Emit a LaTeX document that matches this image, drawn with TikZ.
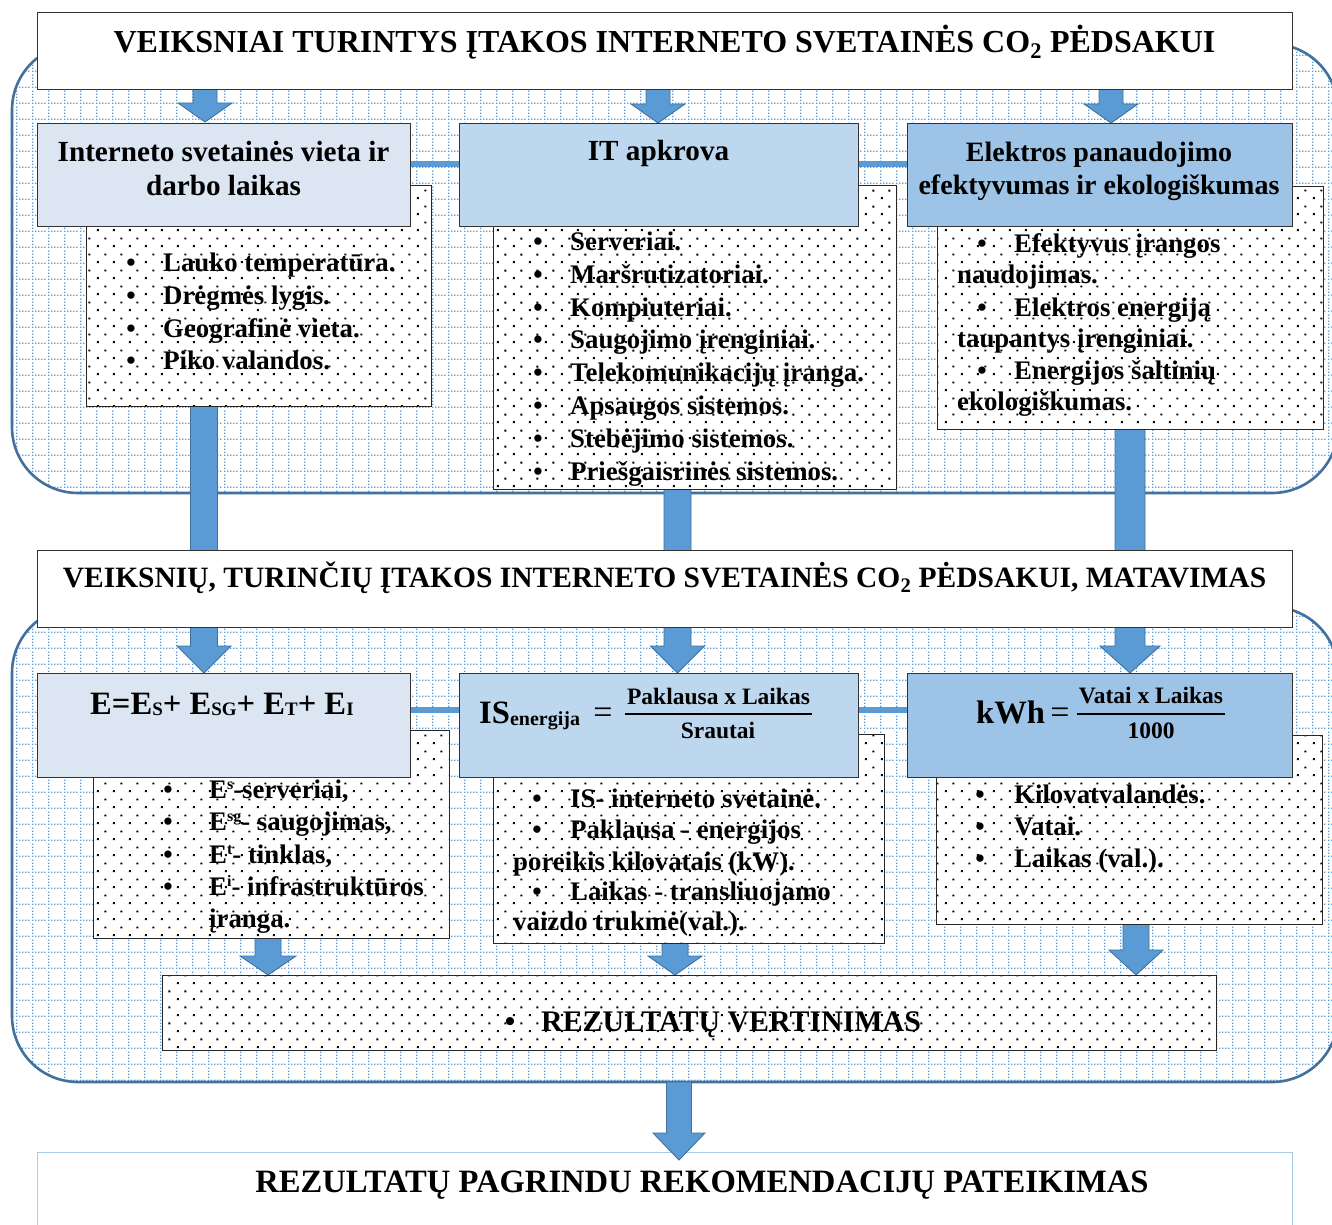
\documentclass[tikz,border=0pt]{standalone}
\usepackage{fontspec}
\setmainfont{Liberation Serif}
\usetikzlibrary{patterns}
\definecolor{hdrA}{HTML}{DCE6F2}
\definecolor{hdrB}{HTML}{BDD7EE}
\definecolor{hdrC}{HTML}{9DC3E6}
\definecolor{arrfill}{HTML}{5B9BD5}
\definecolor{arredge}{HTML}{41719C}
\definecolor{gridblue}{HTML}{5B9BD5}
\definecolor{finaledge}{HTML}{A9CBEA}
\pgfdeclarepatternformonly{bluegrid}{\pgfpointorigin}{\pgfpoint{16pt}{16pt}}{\pgfpoint{16pt}{16pt}}{%
  \pgfpathrectangle{\pgfpoint{0pt}{0pt}}{\pgfpoint{1.5pt}{1.5pt}}%
  \pgfpathrectangle{\pgfpoint{3.2pt}{0pt}}{\pgfpoint{1.5pt}{1.5pt}}%
  \pgfpathrectangle{\pgfpoint{6.4pt}{0pt}}{\pgfpoint{1.5pt}{1.5pt}}%
  \pgfpathrectangle{\pgfpoint{9.6pt}{0pt}}{\pgfpoint{1.5pt}{1.5pt}}%
  \pgfpathrectangle{\pgfpoint{12.8pt}{0pt}}{\pgfpoint{1.5pt}{1.5pt}}%
  \pgfpathrectangle{\pgfpoint{0pt}{3.2pt}}{\pgfpoint{1.5pt}{1.5pt}}%
  \pgfpathrectangle{\pgfpoint{0pt}{6.4pt}}{\pgfpoint{1.5pt}{1.5pt}}%
  \pgfpathrectangle{\pgfpoint{0pt}{9.6pt}}{\pgfpoint{1.5pt}{1.5pt}}%
  \pgfpathrectangle{\pgfpoint{0pt}{12.8pt}}{\pgfpoint{1.5pt}{1.5pt}}%
  \pgfusepath{fill}}
\pgfdeclarepatternformonly{blackdots}{\pgfpointorigin}{\pgfpoint{16pt}{16pt}}{\pgfpoint{16pt}{16pt}}{%
  \pgfpathrectangle{\pgfpoint{1pt}{1pt}}{\pgfpoint{2.1pt}{2.1pt}}%
  \pgfpathrectangle{\pgfpoint{9pt}{9pt}}{\pgfpoint{2.1pt}{2.1pt}}%
  \pgfusepath{fill}}
\newcommand\Ftitle{\fontsize{32}{38}\selectfont\bfseries}
\newcommand\Ffinal{\fontsize{32.6}{38}\selectfont\bfseries}
\newcommand\Ftitleb{\fontsize{29.5}{35}\selectfont\bfseries}
\newcommand\Fhead{\fontsize{28}{34}\selectfont\bfseries}
\newcommand\FheadA{\fontsize{29.2}{34}\selectfont\bfseries}
\newcommand\Flist{\fontsize{26.8}{32}\selectfont\bfseries}
\newcommand\Fres{\fontsize{29.9}{35}\selectfont\bfseries}
\newcommand\Fform{\fontsize{32.6}{38}\selectfont\bfseries}
\newcommand\Ffrac{\fontsize{23.5}{28}\selectfont\bfseries}
\newcommand\Sbs[1]{{\fontsize{19}{19}\selectfont\raisebox{-1pt}{#1}}}
\newcommand\Sps[1]{{\fontsize{16}{16}\selectfont\raisebox{9pt}{#1}}}
% block arrow: x, ytop, ytip, shaft half, head half, head length
\newcommand\dnarrow[6]{\draw[blockarrow] (#1-#4,#2) -- (#1+#4,#2) -- (#1+#4,#3-#6) -- (#1+#5,#3-#6) -- (#1,#3) -- (#1-#5,#3-#6) -- (#1-#4,#3-#6) -- cycle;}
% bullet item: name, bullet x, text x, baseline y, text
\newcommand\bitem[5]{\node[bul] (#1b) at (#2,#4) {\textbullet}; \node[ltxt] (#1) at (#3,#4) {#5};}
\newcommand\litem[4]{\node[ltxt] (#1) at (#2,#3) {#4};}
\begin{document}
\begin{tikzpicture}[x=1pt,y=-1pt,
  region/.style={draw=arredge, line width=2.6pt, preaction={fill=white}, pattern=bluegrid, pattern color=gridblue, rounded corners=66pt},
  blockarrow/.style={fill=arrfill, draw=arredge, line width=0.9pt},
  conn/.style={draw=arrfill, line width=6pt},
  titlebox/.style={draw=black!80, line width=1.3pt, fill=white, inner sep=0, anchor=north west},
  hbox/.style={draw=black!80, line width=1.3pt, inner sep=0, anchor=north west},
  lbox/.style={draw=black!85, line width=1.1pt, preaction={fill=white}, pattern=blackdots, pattern color=black, inner sep=0, anchor=north west},
  txt/.style={inner sep=0, anchor=base},
  bul/.style={inner sep=0, anchor=base, font=\Flist},
  ltxt/.style={inner sep=0, anchor=base west, font=\Flist}]
\useasboundingbox (0,0) rectangle (1332,1224);
\fill[white] (0,0) rectangle (1332,1224);

% regions
\draw[region] (12,44) rectangle (1338,493);
\draw[region] (12,607) rectangle (1338,1082);

% final box and arrow
\node[draw=finaledge, line width=1.3pt, fill=white, inner sep=0, anchor=north west, minimum width=1255pt, minimum height=100pt] (fin) at (37,1152) {};
\node[txt, font=\Ffinal] (fintxt) at (702,1192) {REZULTATŲ PAGRINDU REKOMENDACIJŲ PATEIKIMAS};
\dnarrow{679}{1082}{1160}{12.5}{26}{27}

% arrows from title 1 to headers
\dnarrow{205}{89}{122}{12}{27}{19}
\dnarrow{658}{89}{123}{12}{27}{19}
\dnarrow{1111}{89}{123}{12}{27}{19}

% long arrows down to row 2
\dnarrow{204}{400}{673}{13.5}{27}{27}
\dnarrow{677.5}{480}{673}{13.5}{27}{27}
\dnarrow{1130}{425}{673}{15}{30}{27}

% arrows from row 2 lists to result
\dnarrow{268}{930}{975}{13}{28}{19}
\dnarrow{675}{935}{975}{13}{27}{19}
\dnarrow{1136}{918}{975}{13}{27}{25}

% result box
\node[lbox, minimum width=1054pt, minimum height=75pt] (res) at (162,975) {};
\node[bul, font=\Fres] (resb) at (510,1031) {\textbullet};
\node[ltxt, font=\Fres] (restxt) at (541,1031) {REZULTATŲ VERTINIMAS};

% connector levels
\coordinate (c1) at (0,164);
\coordinate (c2) at (0,710);

% ---------- row 1 ----------
\node[lbox, minimum width=345pt, minimum height=221pt] (lA) at (86,185) {};
\node[lbox, minimum width=403pt, minimum height=304pt] (lB) at (493,185) {};
\node[lbox, minimum width=386pt, minimum height=243pt] (lC) at (937,186) {};

\node[hbox, fill=hdrA, minimum width=373pt, minimum height=103pt] (hA) at (37,123) {};
\node[hbox, fill=hdrB, minimum width=399pt, minimum height=103pt] (hB) at (459,123) {};
\node[hbox, fill=hdrC, minimum width=385pt, minimum height=103pt] (hC) at (907,123) {};
\draw[conn] (hA.east |- c1) -- (hB.west |- c1);
\draw[conn] (hB.east |- c1) -- (hC.west |- c1);
\node[hbox, fill=hdrA, minimum width=373pt, minimum height=103pt] (hA2) at (37,123) {};
\node[hbox, fill=hdrB, minimum width=399pt, minimum height=103pt] (hB2) at (459,123) {};
\node[hbox, fill=hdrC, minimum width=385pt, minimum height=103pt] (hC2) at (907,123) {};

\node[txt, font=\FheadA] (hA1) at (223.5,161) {Interneto svetainės vieta ir};
\node[txt, font=\FheadA] (hA3) at (223.5,195) {darbo laikas};
\node[txt, font=\FheadA] (hB1) at (658.5,160) {IT apkrova};
\node[txt, font=\Fhead] (hC1) at (1099,161) {Elektros panaudojimo};
\node[txt, font=\Fhead] (hC3) at (1099,194) {efektyvumas ir ekologiškumas};

\bitem{a1}{131}{163}{271}{Lauko temperatūra.}
\bitem{a2}{131}{163}{304}{Drėgmės lygis.}
\bitem{a3}{131}{163}{337}{Geografinė vieta.}
\bitem{a4}{131}{163}{369}{Piko valandos.}

\bitem{b1}{538}{570}{250}{Serveriai.}
\bitem{b2}{538}{570}{283}{Maršrutizatoriai.}
\bitem{b3}{538}{570}{316}{Kompiuteriai.}
\bitem{b4}{538}{570}{348}{Saugojimo įrenginiai.}
\bitem{b5}{538}{570}{381}{Telekomunikacijų įranga.}
\bitem{b6}{538}{570}{414}{Apsaugos sistemos.}
\bitem{b7}{538}{570}{447}{Stebėjimo sistemos.}
\bitem{b8}{538}{570}{480}{Priešgaisrinės sistemos.}

\bitem{c1i}{982}{1014}{252}{Efektyvus įrangos}
\litem{c1j}{957}{283}{naudojimas.}
\bitem{c2i}{982}{1014}{316}{Elektros energiją}
\litem{c2j}{957}{347}{taupantys įrenginiai.}
\bitem{c3i}{982}{1014}{379}{Energijos šaltinių}
\litem{c3j}{957}{410}{ekologiškumas.}

% ---------- title 1 ----------
\node[titlebox, minimum width=1255pt, minimum height=77pt] (t1) at (37,12) {};
\node[txt, font=\Ftitle] (t1txt) at (664.5,52) {VEIKSNIAI TURINTYS ĮTAKOS INTERNETO SVETAINĖS CO\textsubscript{2} PĖDSAKUI};

% ---------- title 2 ----------
\node[titlebox, minimum width=1255pt, minimum height=77pt] (t2) at (37,550) {};
\node[txt, font=\Ftitleb] (t2txt) at (664.5,587) {VEIKSNIŲ, TURINČIŲ ĮTAKOS INTERNETO SVETAINĖS CO\textsubscript{2} PĖDSAKUI, MATAVIMAS};

% ---------- row 2 ----------
\node[lbox, minimum width=356pt, minimum height=208pt] (lD) at (93,730) {};
\node[lbox, minimum width=391pt, minimum height=209pt] (lE) at (493,734) {};
\node[lbox, minimum width=386pt, minimum height=189pt] (lF) at (936,735) {};

\node[hbox, fill=hdrA, minimum width=373pt, minimum height=104pt] (hD) at (37,673) {};
\node[hbox, fill=hdrB, minimum width=399pt, minimum height=104pt] (hE) at (459,673) {};
\node[hbox, fill=hdrC, minimum width=385pt, minimum height=104pt] (hF) at (907,673) {};
\draw[conn] (hD.east |- c2) -- (hE.west |- c2);
\draw[conn] (hE.east |- c2) -- (hF.west |- c2);
\node[hbox, fill=hdrA, minimum width=373pt, minimum height=104pt] (hD2) at (37,673) {};
\node[hbox, fill=hdrB, minimum width=399pt, minimum height=104pt] (hE2) at (459,673) {};
\node[hbox, fill=hdrC, minimum width=385pt, minimum height=104pt] (hF2) at (907,673) {};

% formula D
\node[inner sep=0, anchor=base west, font=\Fform] (fD) at (90,714) {E=E\Sbs{S}+ E\Sbs{SG}+ E\Sbs{T}+ E\Sbs{I}};
% formula E
\node[inner sep=0, anchor=base west, font=\Fform] (fE) at (479,723) {IS\raisebox{-2pt}{\fontsize{20}{20}\selectfont energija}};
\node[txt, font=\fontsize{34}{34}\selectfont] (fEeq) at (603,723) {=};
\node[txt, font=\Ffrac] (fEnum) at (718.5,704) {Paklausa x Laikas};
\node[txt, font=\Ffrac] (fEden) at (718,738) {Srautai};
\draw[line width=2.5pt] ([xshift=-2pt]fEnum.base west |- 0,714) -- ([xshift=2pt]fEnum.base east |- 0,714);
% formula F
\node[inner sep=0, anchor=base west, font=\Fform] (fF) at (976,723) {kWh};
\node[txt, font=\fontsize{34}{34}\selectfont] (fFeq) at (1060,723) {=};
\node[txt, font=\Ffrac] (fFnum) at (1151,703) {Vatai x Laikas};
\node[txt, font=\Ffrac] (fFden) at (1151,738) {1000};
\draw[line width=2.5pt] ([xshift=-2pt]fFnum.base west |- 0,714) -- ([xshift=2pt]fFnum.base east |- 0,714);

\bitem{d1}{168}{209}{798}{E\Sps{s}-serveriai,}
\bitem{d2}{168}{209}{830}{E\Sps{sg}- saugojimas,}
\bitem{d3}{168}{209}{863}{E\Sps{t}- tinklas,}
\bitem{d4}{168}{209}{895}{E\Sps{i}- infrastruktūros}
\litem{d5}{209}{927}{įranga.}

\bitem{e1}{537}{570}{807}{IS- interneto svetainė.}
\bitem{e2}{537}{570}{838}{Paklausa - energijos}
\litem{e3}{513}{870}{poreikis kilovatais (kW).}
\bitem{e4}{537}{570}{900}{Laikas - transliuojamo}
\litem{e5}{513}{930}{vaizdo trukmė(val.).}

\bitem{f1}{980}{1014}{803}{Kilovatvalandės.}
\bitem{f2}{980}{1014}{835}{Vatai.}
\bitem{f3}{980}{1014}{867}{Laikas (val.).}
\end{tikzpicture}
\end{document}
